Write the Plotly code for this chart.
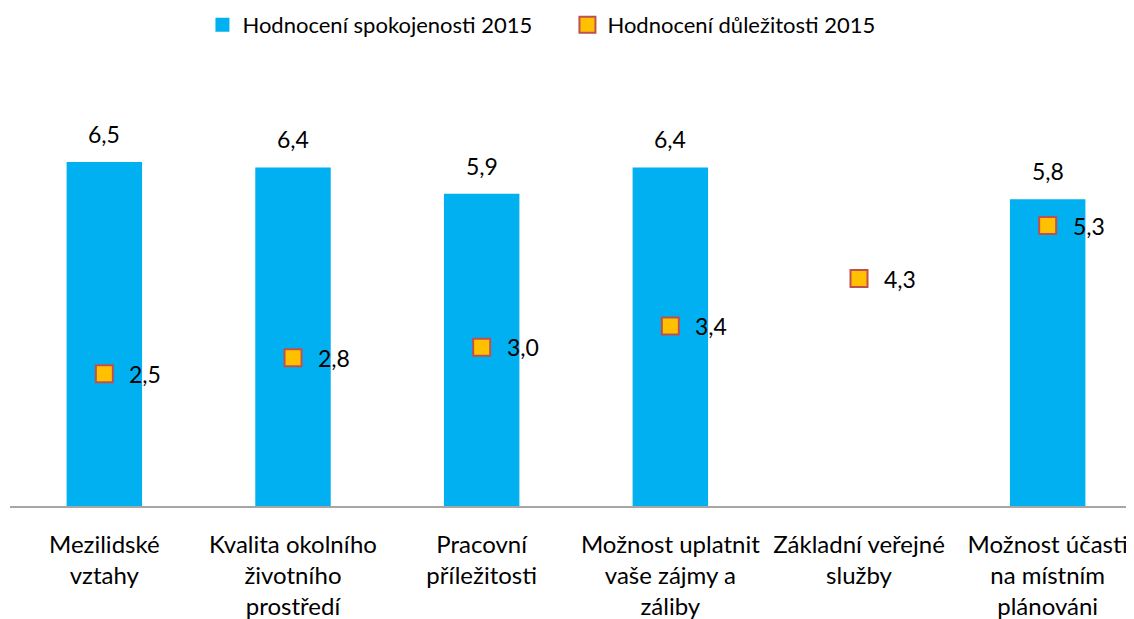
import plotly.graph_objects as go

categories = [
    "Mezilidské<br>vztahy",
    "Kvalita okolního<br>životního<br>prostředí",
    "Pracovní<br>příležitosti",
    "Možnost uplatnit<br>vaše zájmy a<br>záliby",
    "Základní veřejné<br>služby",
    "Možnost účasti<br>na místním<br>plánováni",
]
spokojenost = [6.5, 6.4, 5.9, 6.4, None, 5.8]
dulezitost = [2.5, 2.8, 3.0, 3.4, 4.3, 5.3]
series_names = ["Hodnocení spokojenosti 2015", "Hodnocení důležitosti 2015"]

FONT = "Lato, 'Open Sans', sans-serif"
BLUE = "#00B0F0"
idx = list(range(len(categories)))

fig = go.Figure()
fig.add_trace(go.Bar(
    x=idx, y=spokojenost, name=series_names[0], showlegend=False,
    marker=dict(color=BLUE, line=dict(width=0)),
    width=0.4,
))
# legend proxy for the bar series (square swatch like the original)
fig.add_trace(go.Scatter(
    x=[None], y=[None], name=series_names[0], mode="markers",
    marker=dict(symbol="square", size=14, color=BLUE, line=dict(width=0)),
))
fig.add_trace(go.Scatter(
    x=idx, y=dulezitost, name=series_names[1], mode="markers",
    marker=dict(symbol="square", size=17, color="#FFC000",
                line=dict(color="#C0504D", width=2)),
))

for i, v in zip(idx, spokojenost):
    if v is not None:
        fig.add_annotation(x=i, y=v, text=f"{v:.1f}".replace(".", ","),
                           showarrow=False, yshift=28, yanchor="middle",
                           font=dict(size=23, color="#000", family=FONT))
for i, v in zip(idx, dulezitost):
    fig.add_annotation(x=i, y=v, text=f"{v:.1f}".replace(".", ","),
                       showarrow=False, xshift=23, xanchor="left", yanchor="middle",
                       font=dict(size=23, color="#000", family=FONT))

fig.update_layout(
    width=1134, height=619,
    margin=dict(l=2, r=0, t=52, b=121),
    paper_bgcolor="white", plot_bgcolor="white",
    font=dict(family=FONT, size=20, color="#000"),
    separators=", ",
    showlegend=True,
    legend=dict(orientation="h", x=0.17, xanchor="left",
                yref="container", y=(619 - 17) / 619, yanchor="middle",
                entrywidth=320, entrywidthmode="pixels",
                font=dict(size=22, family=FONT), itemsizing="trace"),
    xaxis=dict(tickmode="array", tickvals=idx, ticktext=categories,
               range=[-0.5, 5.5], showgrid=False, zeroline=False,
               showline=True, linecolor="#A6A6A6", linewidth=2,
               ticks="", ticklabelstandoff=16,
               tickfont=dict(size=24, family=FONT)),
    yaxis=dict(range=[0, 8.43], visible=False, showgrid=False, zeroline=False),
)

fig.write_html("out.html")
